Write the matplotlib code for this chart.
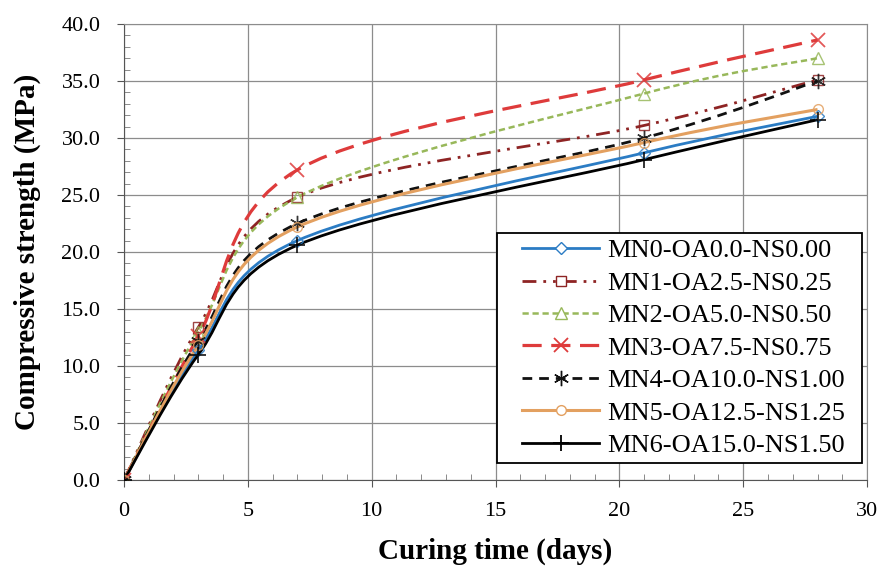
import numpy as np
import matplotlib
matplotlib.use("Agg")
import matplotlib.pyplot as plt
from matplotlib.path import Path
from matplotlib.patches import PathPatch, Rectangle
from matplotlib.lines import Line2D
from matplotlib.ticker import MultipleLocator, FormatStrFormatter

days = [0, 3, 7, 21, 28]

labels = [
    "MN0-OA0.0-NS0.00",
    "MN1-OA2.5-NS0.25",
    "MN2-OA5.0-NS0.50",
    "MN3-OA7.5-NS0.75",
    "MN4-OA10.0-NS1.00",
    "MN5-OA12.5-NS1.25",
    "MN6-OA15.0-NS1.50",
]

mn0 = [0.0, 11.4, 21.0, 28.7, 31.9]
mn1 = [0.0, 13.4, 24.8, 31.1, 35.1]
mn2 = [0.0, 13.0, 24.8, 33.9, 37.0]
mn3 = [0.0, 12.6, 27.2, 35.1, 38.6]
mn4 = [0.0, 12.2, 22.5, 30.0, 35.0]
mn5 = [0.0, 11.8, 22.2, 29.6, 32.5]
mn6 = [0.0, 11.0, 20.6, 28.1, 31.6]
series = [mn0, mn1, mn2, mn3, mn4, mn5, mn6]

colors = ["#2B7CC4", "#8E2424", "#98B85A", "#DE3B3B", "#111111", "#E3A060", "#000000"]
markers = ["D", "s", "^", "x", (6, 2, 0), "o", "+"]
msizes = [6, 7, 8, 10, 11, 7, 11]
widths = [2.0, 2.0, 1.8, 2.3, 2.0, 2.2, 2.0]
styles = ["-", (0, (5, 2.5, 1, 2.5, 1, 2.5)), (0, (2.5, 1.5)), (0, (6, 3)),
          (0, (3.5, 2.5)), "-", "-"]


def smooth_path(xs, ys):
    # Excel-like smoothed line: Bezier segments with Catmull-Rom control points
    pts = np.column_stack([xs, ys]).astype(float)
    ext = np.vstack([pts[0], pts, pts[-1]])
    verts = [tuple(pts[0])]
    codes = [Path.MOVETO]
    for i in range(len(pts) - 1):
        p0, p1, p2, p3 = ext[i], ext[i + 1], ext[i + 2], ext[i + 3]
        c1 = p1 + (p2 - p0) / 6.0
        c2 = p2 - (p3 - p1) / 6.0
        verts += [tuple(c1), tuple(c2), tuple(p2)]
        codes += [Path.CURVE4] * 3
    return Path(verts, codes)


plt.rcParams["font.family"] = ["Liberation Serif", "DejaVu Serif"]

fig = plt.figure(figsize=(8.81, 5.71), dpi=100)
ax = fig.add_axes([0.1408, 0.1594, 0.8434, 0.7986])

handles = []
for vals, lab, c, m, ms, lw, ls in zip(series, labels, colors, markers, msizes, widths, styles):
    ax.add_patch(PathPatch(smooth_path(days, vals), fill=False, edgecolor=c,
                           linewidth=lw, linestyle=ls, zorder=3))
    mew = 1.0 if m not in ("x", "+") else 1.3
    ax.plot(days, vals, linestyle="none", marker=m, markersize=ms, color=c,
            markerfacecolor="none", markeredgewidth=mew, alpha=0.85, zorder=4)
    handles.append(Line2D([], [], color=c, linewidth=lw, linestyle=ls, marker=m,
                          markersize=ms, markerfacecolor="white", markeredgewidth=mew,
                          label=lab))

ax.set_xlim(0, 30)
ax.set_ylim(0, 40)
ax.xaxis.set_major_locator(MultipleLocator(5))
ax.xaxis.set_minor_locator(MultipleLocator(1))
ax.yaxis.set_major_locator(MultipleLocator(5))
ax.yaxis.set_minor_locator(MultipleLocator(1))
ax.yaxis.set_major_formatter(FormatStrFormatter("%.1f"))

ax.grid(True, which="major", color="#8C8C8C", linewidth=0.9)
ax.set_axisbelow(True)
for side in ["top", "right"]:
    ax.spines[side].set_color("#8C8C8C")
ax.spines["left"].set_color("#555555")
ax.spines["bottom"].set_color("#555555")

ax.tick_params(which="major", direction="out", length=5, color="#555555",
               labelsize=16)
ax.tick_params(axis="y", which="major", pad=12)
ax.tick_params(axis="x", which="major", pad=11)
ax.tick_params(which="minor", direction="in", length=4, color="#777777")
ax.tick_params(axis="x", which="both", top=False)
ax.tick_params(axis="y", which="both", right=False)

ax.set_xlabel("Curing time (days)", fontsize=21, fontweight="bold", labelpad=12)
ax.set_ylabel("Compressive strength (MPa)", fontsize=21, fontweight="bold")
ax.yaxis.set_label_coords(-0.112, 0.5)

# legend box drawn separately so it can be wider than its content
ax.add_patch(Rectangle((0.502, 0.037), 0.491, 0.5044, transform=ax.transAxes,
                       facecolor="white", edgecolor="black", linewidth=1.3,
                       zorder=4.5))
leg = ax.legend(handles=handles, loc="center", bbox_to_anchor=(0.753, 0.2895),
                fontsize=19, frameon=False, handlelength=2.9, handletextpad=0.3,
                labelspacing=0.34, borderpad=0.0)
leg.set_zorder(5)

fig.savefig("out.png", dpi=100)
